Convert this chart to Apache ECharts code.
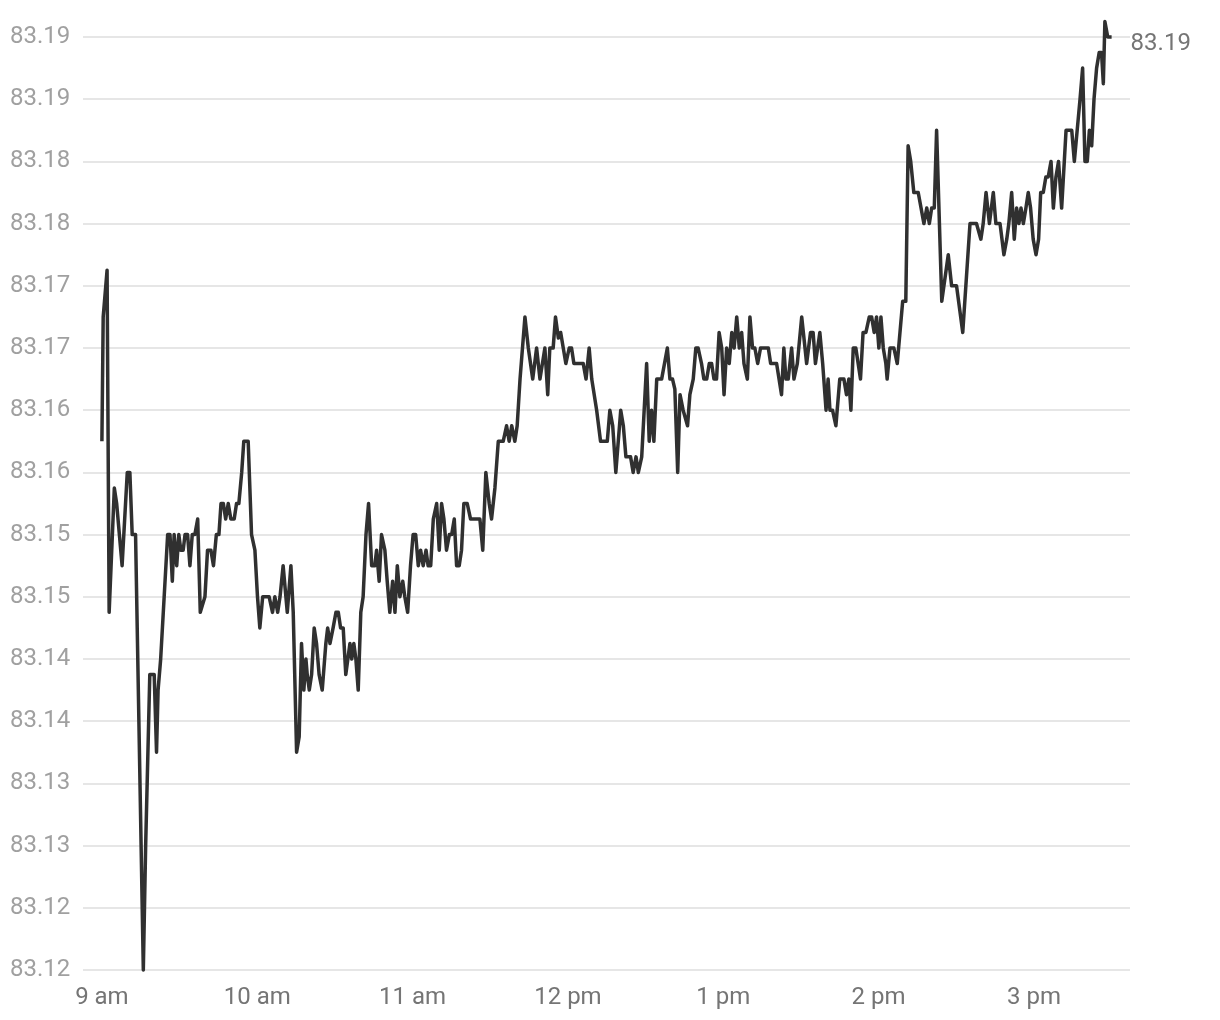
<!DOCTYPE html>
<html>
<head>
<meta charset="utf-8">
<title>USD/INR intraday</title>
<script src="https://cdn.jsdelivr.net/npm/echarts@6.0.0/dist/echarts.min.js"></script>
<style>
  html, body { margin: 0; padding: 0; background: #fff; }
  #chart { width: 1220px; height: 1020px; }
</style>
</head>
<body>
<div id="chart"></div>
<script>
// minutes after 9:00 am
const minutes = [
  0, 0.5, 2.0, 2.8, 4.8, 5.7, 7.8, 9.8, 10.8, 11.7, 13.0, 16.0, 16.9, 18.5, 20.2, 21.1, 21.7, 22.7,
  25.4, 26.3, 27.2, 27.9, 28.9, 29.7, 30.5, 31.4, 32.1, 33.1, 34.0, 34.9, 35.9, 37.0, 38.0, 38.7,
  39.8, 40.8, 42.1, 43.1, 44.2, 45.2, 46.0, 46.9, 47.8, 48.8, 49.8, 51.1, 52.0, 52.9, 54.0, 54.8,
  56.5, 57.8, 59.1, 60.1, 61.0, 62.1, 64.6, 65.9, 66.8, 67.9, 68.8, 70.0, 71.6, 73.0, 73.9, 75.2,
  76.2, 77.1, 78.0, 78.8, 79.3, 80.1, 81.0, 82.0, 82.9, 83.9, 85.1, 86.5, 87.2, 88.1, 89.3, 90.4,
  91.3, 92.2, 93.2, 94.2, 95.8, 96.5, 97.3, 98.1, 99.0, 100.0, 100.9, 102.0, 103.0, 104.2, 105.4,
  106.1, 107.1, 108.0, 109.3, 110.2, 111.2, 112.3, 113.2, 114.1, 115.1, 116.2, 117.0, 118.1, 119.2,
  120.2, 121.2, 122.2, 123.1, 124.1, 125.2, 126.0, 127.0, 128.0, 129.3, 130.3, 131.2, 132.1, 133.1,
  134.2, 135.1, 136.1, 137.0, 138.0, 138.9, 139.8, 141.1, 142.4, 146.0, 147.1, 148.3, 149.6, 150.5,
  151.8, 153.1, 155.0, 156.3, 157.3, 158.3, 159.5, 160.4, 161.5, 163.4, 164.7, 166.4, 167.9, 169.2,
  171.1, 172.2, 173.0, 174.3, 175.2, 176.3, 177.2, 178.2, 179.2, 180.5, 181.4, 182.3, 185.9, 187.0,
  188.2, 189.2, 191.1, 192.6, 195.2, 196.2, 197.3, 198.5, 200.4, 201.4, 202.4, 204.2, 205.2, 206.3,
  207.2, 208.5, 210.4, 211.4, 212.3, 213.2, 214.3, 216.2, 218.4, 219.4, 220.4, 221.3, 222.4, 223.3,
  224.5, 226.2, 227.1, 228.4, 229.4, 230.3, 231.6, 232.5, 233.6, 234.6, 235.5, 236.4, 237.4, 238.4,
  239.4, 240.3, 241.3, 242.3, 243.3, 244.2, 245.2, 246.2, 247.1, 248.0, 249.3, 250.3, 251.3, 252.2,
  253.3, 254.4, 257.4, 258.3, 260.6, 262.5, 263.4, 264.2, 265.1, 266.4, 267.3, 268.6, 270.3, 272.2,
  273.7, 274.7, 275.6, 277.3, 278.4, 279.7, 280.5, 281.2, 282.2, 283.5, 285.0, 286.6, 287.6, 288.5,
  289.3, 290.2, 291.2, 293.0, 294.0, 295.1, 296.4, 297.3, 298.3, 299.2, 300.1, 300.9, 301.8, 302.8,
  303.3, 304.4, 305.9, 307.2, 309.3, 310.5, 311.4, 312.4, 313.6, 315.3, 317.5, 318.6, 319.6, 320.5,
  321.5, 322.4, 324.4, 326.9, 328.2, 330.1, 332.5, 335.3, 337.8,
  339.5, 340.4, 341.5, 342.8, 344.3, 345.3, 346.9, 348.4, 349.5, 350.3, 351.4, 352.4, 353.3, 354.2,
  355.0, 355.9, 356.9, 357.8, 358.7, 359.7, 360.8, 361.8, 362.6, 363.6, 364.6, 365.5, 366.6, 367.5,
  368.5, 369.5, 370.7, 372.4, 374.6, 375.6, 377.8, 378.8, 379.7, 380.6, 381.4, 382.3, 383.2, 384.2,
  385.2, 386.1, 386.8, 387.4, 388.5, 390.0
]

const rates = [
  83.1625, 83.1725, 83.17625, 83.14875, 83.15875, 83.1575, 83.1525, 83.16, 83.16, 83.155, 83.155, 83.12, 83.13, 83.14375, 83.14375, 83.1375, 83.1425, 83.145,
  83.155, 83.155, 83.15125, 83.155, 83.1525, 83.155, 83.15375, 83.15375, 83.155, 83.155, 83.1525, 83.155, 83.155, 83.15625, 83.14875, 83.14875,
  83.15, 83.15375, 83.15375, 83.1525, 83.155, 83.155, 83.1575, 83.1575, 83.15625, 83.1575, 83.15625, 83.15625, 83.1575, 83.1575, 83.16, 83.1625,
  83.1625, 83.155, 83.15375, 83.15, 83.1475, 83.15, 83.15, 83.14875, 83.15, 83.14875, 83.15, 83.1525, 83.14875, 83.1525, 83.14875, 83.1375,
  83.13875, 83.14625, 83.1425, 83.145, 83.14375, 83.1425, 83.14375, 83.1475, 83.14625, 83.14375, 83.1425, 83.14625, 83.1475, 83.14625, 83.1475, 83.14875,
  83.14875, 83.1475, 83.1475, 83.14375, 83.14625, 83.145, 83.14625, 83.145, 83.1425, 83.14875, 83.15, 83.155, 83.1575, 83.1525, 83.1525,
  83.15375, 83.15125, 83.155, 83.15375, 83.15125, 83.14875, 83.15125, 83.14875, 83.1525, 83.15, 83.15125, 83.15, 83.14875, 83.1525,
  83.155, 83.155, 83.1525, 83.15375, 83.1525, 83.15375, 83.1525, 83.1525, 83.15625, 83.1575, 83.15375, 83.1575, 83.15625, 83.15375,
  83.155, 83.155, 83.15625, 83.1525, 83.1525, 83.15375, 83.1575, 83.1575, 83.15625, 83.15625, 83.15375, 83.16, 83.1575, 83.15625,
  83.15875, 83.1625, 83.1625, 83.16375, 83.1625, 83.16375, 83.1625, 83.16375, 83.1675, 83.1725, 83.17, 83.1675, 83.17, 83.1675,
  83.17, 83.16625, 83.17, 83.17, 83.1725, 83.1708, 83.17125, 83.17, 83.16875, 83.17, 83.17, 83.16875, 83.16875, 83.1675,
  83.17, 83.1675, 83.165, 83.1625, 83.1625, 83.165, 83.16375, 83.16, 83.165, 83.16375, 83.16125, 83.16125, 83.16, 83.16125,
  83.16, 83.16125, 83.16875, 83.1625, 83.165, 83.1625, 83.1675, 83.1675, 83.17, 83.1675, 83.1675, 83.1667, 83.16, 83.16625,
  83.165, 83.16375, 83.16625, 83.1675, 83.17, 83.17, 83.16875, 83.1675, 83.1675, 83.16875, 83.16875, 83.1675, 83.1675, 83.17125,
  83.17, 83.16625, 83.17, 83.16875, 83.17125, 83.17, 83.1725, 83.17, 83.17125, 83.16875, 83.1675, 83.1725, 83.17, 83.17,
  83.16875, 83.17, 83.17, 83.16875, 83.16875, 83.16625, 83.17, 83.1675, 83.1675, 83.17, 83.1675, 83.16875, 83.1725, 83.16875,
  83.17125, 83.17125, 83.16875, 83.17125, 83.16875, 83.165, 83.1675, 83.165, 83.165, 83.16375, 83.1675, 83.1675, 83.16625, 83.1675,
  83.165, 83.17, 83.17, 83.1675, 83.17125, 83.17125, 83.1725, 83.1725, 83.17125, 83.1725, 83.17, 83.1725, 83.17, 83.16875,
  83.1675, 83.17, 83.17, 83.16875, 83.17375, 83.17375, 83.18625, 83.185, 83.1825, 83.1825, 83.18, 83.18125, 83.18, 83.18125,
  83.18125, 83.1875, 83.17375, 83.1775, 83.175, 83.175, 83.17125, 83.18, 83.18,
  83.17875, 83.18, 83.1825, 83.18, 83.1825, 83.18, 83.18, 83.1775, 83.17875, 83.18, 83.1825, 83.17875, 83.18125, 83.18,
  83.18125, 83.18, 83.18125, 83.1825, 83.18125, 83.17875, 83.1775, 83.17875, 83.1825, 83.1825, 83.18375, 83.18375, 83.185, 83.18125,
  83.18375, 83.185, 83.18125, 83.1875, 83.1875, 83.185, 83.19, 83.1925, 83.185, 83.185, 83.1875, 83.18625, 83.19, 83.1925,
  83.19375, 83.19375, 83.19125, 83.19625, 83.195, 83.195
]

const hourTicks = [0, 60, 120, 180, 240, 300, 360]
const hourLabels = ['9 am', '10 am', '11 am', '12 pm', '1 pm', '2 pm', '3 pm']

const yMin = 83.12
const yMax = 83.195
const yStep = 0.005
const yTickLabels = [
  '83.12', '83.12', '83.13', '83.13', '83.14', '83.14', '83.15', '83.15',
  '83.16', '83.16', '83.17', '83.17', '83.18', '83.18', '83.19', '83.19'
]

const chart = echarts.init(document.getElementById('chart'), null, { renderer: 'canvas' })

const points = minutes.map((m, i) => [m, rates[i]])

chart.setOption({
  animation: false,
  backgroundColor: '#ffffff',
  textStyle: { fontFamily: 'Roboto' },
  grid: {
    left: 83,
    right: 90,
    top: 37,
    bottom: 50
  },
  xAxis: {
    type: 'value',
    min: -7.3,
    max: 397.1,
    axisLine: { show: false },
    axisTick: { show: false },
    splitLine: { show: false },
    axisLabel: {
      customValues: hourTicks,
      margin: 16,
      color: '#757575',
      fontSize: 24,
      fontFamily: 'Roboto',
      formatter: function (v) {
        return hourLabels[hourTicks.indexOf(Math.round(v))] || ''
      }
    }
  },
  yAxis: {
    type: 'value',
    min: yMin,
    max: yMax,
    interval: yStep,
    axisLine: { show: false },
    axisTick: { show: false },
    splitLine: {
      lineStyle: { color: '#e6e6e6', width: 2 }
    },
    axisLabel: {
      align: 'left',
      margin: 73,
      color: '#a0a0a0',
      fontSize: 24,
      fontFamily: 'Roboto',
      formatter: function (v) {
        return yTickLabels[Math.round((v - yMin) / yStep)] || ''
      }
    }
  },
  series: [
    {
      type: 'line',
      data: points,
      showSymbol: false,
      symbol: 'none',
      clip: false,
      lineStyle: { color: '#303030', width: 3.5, join: 'round' },
      endLabel: {
        show: true,
        distance: 19,
        offset: [0, 7],
        color: '#757575',
        fontSize: 24,
        fontFamily: 'Roboto',
        formatter: function (p) {
          return yTickLabels[yTickLabels.length - 1]
        }
      }
    }
  ]
})
</script>
</body>
</html>
